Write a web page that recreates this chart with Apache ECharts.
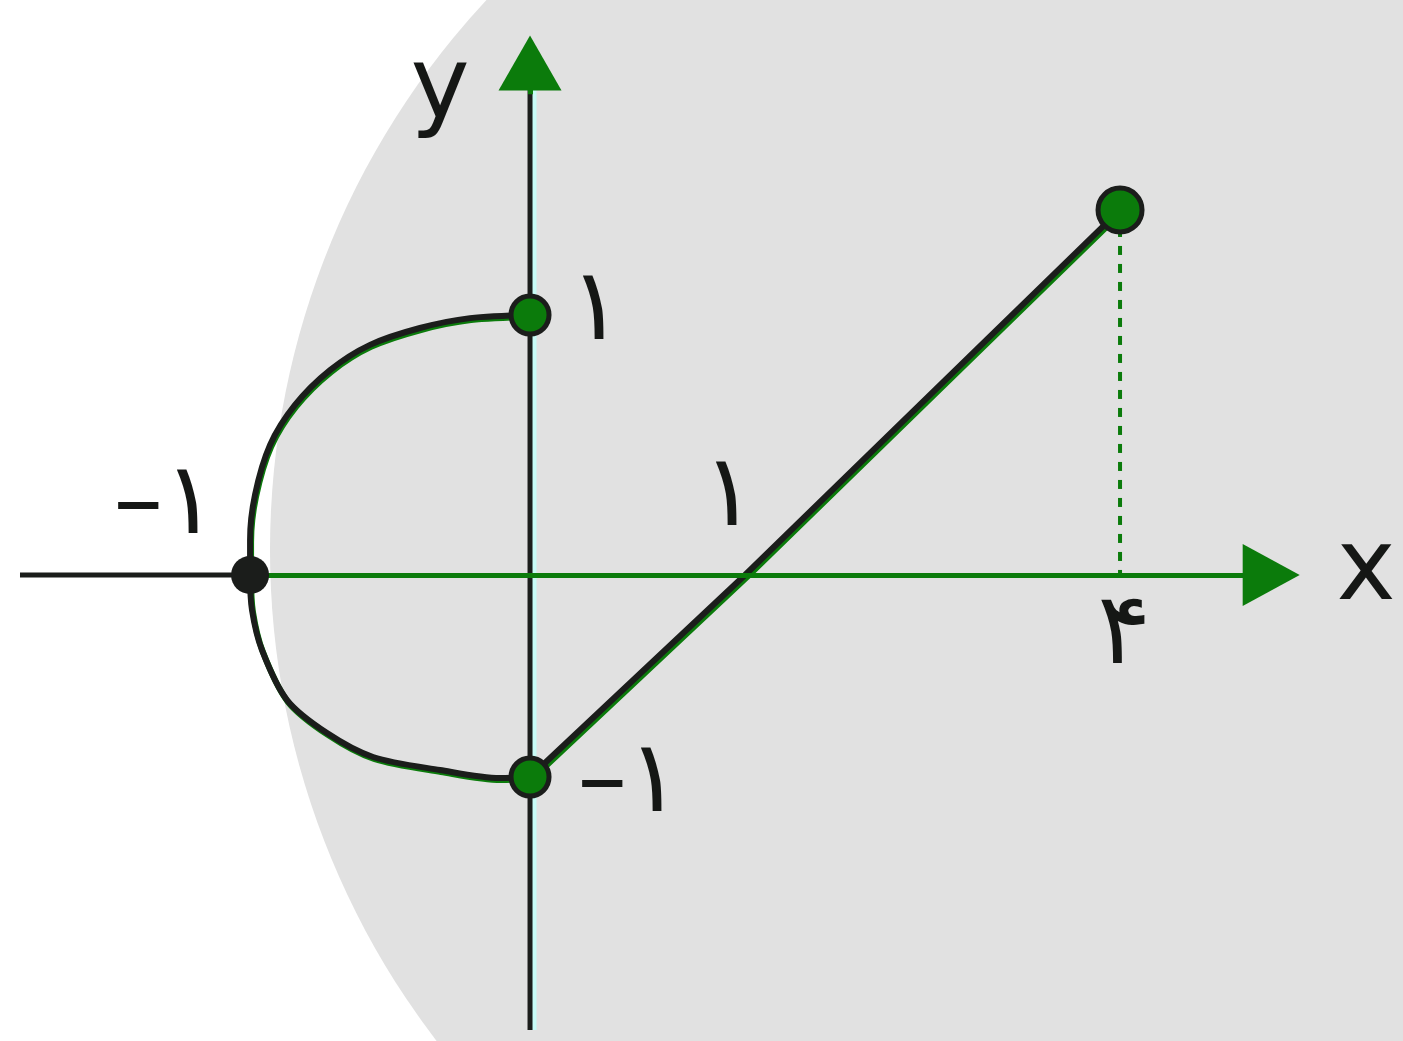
<!DOCTYPE html>
<html>
<head>
<meta charset="utf-8">
<script src="https://cdn.jsdelivr.net/npm/echarts@6/dist/echarts.min.js"></script>
<style>
html,body{margin:0;padding:0;background:#fff;}
#c{width:1403px;height:1041px;}
</style>
</head>
<body>
<div id="c"></div>
<script>
// Curve for x <= 0 (left arc), in figure units (tick "۱" = 1)
const arcX = [0, -0.279, -0.512, -0.744, -0.930, -1.093, -1.209, -1.279, -1.302, -1.302, -1.293, -1.247, -1.130, -0.944, -0.730, -0.419, -0.140, 0];
const arcY = [1, 0.988, 0.950, 0.885, 0.788, 0.654, 0.500, 0.308, 0.135, 0, -0.135, -0.288, -0.481, -0.608, -0.700, -0.750, -0.781, -0.777];
// Straight part for x >= 0
const lineX = [0, 1, 2.744];
const lineY = [-0.777, 0, 1.404];
// Filled points
const dotX = [0, -1.302, 0, 2.744];
const dotY = [1, 0, -0.777, 1.404];
// Tick labels
const xTickPos = [-1.302, 1, 2.744];
const xTickText = ['–۱', '۱', '۴'];
const yTickPos = [1, -0.777];
const yTickText = ['۱', '–۱'];
// Axis extents
const xAxisRange = [-2.372, 3.447];
const yAxisRange = [-1.75, 1.969];
const axisNames = ['x', 'y'];

const pts = (xs, ys) => xs.map((x, i) => [x, ys[i]]);
const dark = '#1b1d1b';
const green = '#0b7b0b';
const font = 'DejaVu Sans';

const labelOffsetsX = [[-85, -68], [-16, -76], [4, 62]];
const labelOffsetsY = [[66, -2], [99, 8]];

const labelData = [];
xTickPos.forEach((x, i) => labelData.push({value: [x, 0], label: {formatter: xTickText[i], offset: labelOffsetsX[i]}}));
yTickPos.forEach((y, i) => labelData.push({value: [0, y], label: {formatter: yTickText[i], offset: labelOffsetsY[i]}}));
labelData.push({value: [xAxisRange[1], 0], label: {formatter: axisNames[0], offset: [95, -2], fontSize: 100}});
labelData.push({value: [0, yAxisRange[1]], label: {formatter: axisNames[1], offset: [-90, 28], fontSize: 100}});

const chart = echarts.init(document.getElementById('c'));
chart.setOption({
  animation: false,
  backgroundColor: '#ffffff',
  graphic: [{
    type: 'circle', z: -10, silent: true,
    shape: {cx: 1077, cy: 550, r: 807},
    style: {fill: '#e1e1e1'}
  }],
  grid: {left: 0, right: 0, top: 0, bottom: 0},
  xAxis: {type: 'value', min: -2.465, max: 4.060, show: false, splitLine: {show: false}},
  yAxis: {type: 'value', min: -1.7923, max: 2.2115, show: false, splitLine: {show: false}},
  series: [
    // x axis: black part left of -1
    {
      type: 'line', data: [[xAxisRange[0], 0], [xTickPos[0], 0]], symbol: 'none', z: 3,
      lineStyle: {color: dark, width: 5}
    },
    // x axis: green part with arrow
    {
      type: 'line', data: [], z: 3,
      markLine: {
        silent: true, animation: false,
        symbol: ['none', 'triangle'], symbolSize: [62, 57],
        label: {show: false},
        lineStyle: {color: green, width: 5, type: 'solid'},
        data: [[{coord: [xTickPos[0], 0]}, {coord: [xAxisRange[1], 0]}]]
      }
    },
    // y axis line
    {
      type: 'line', data: [[0, yAxisRange[0]], [0, yAxisRange[1] - 0.1]], symbol: 'none', z: 3,
      lineStyle: {color: dark, width: 5, shadowColor: '#c8fbf6', shadowOffsetX: 4, shadowBlur: 0}
    },
    // y axis arrow head
    {
      type: 'line', data: [], z: 3,
      markLine: {
        silent: true, animation: false,
        symbol: ['none', 'triangle'], symbolSize: [63, 55],
        label: {show: false},
        lineStyle: {color: green, width: 5, type: 'solid'},
        data: [[{coord: [0, yAxisRange[1] - 0.12]}, {coord: [0, yAxisRange[1]]}]]
      }
    },
    // dotted drop line
    {
      type: 'line', data: [[lineX[2], lineY[2]], [lineX[2], 0]], symbol: 'none', z: 3,
      lineStyle: {color: green, width: 4, type: [9, 9]}
    },
    // left arc
    {
      type: 'line', data: pts(arcX, arcY), symbol: 'none', smooth: 0.3, z: 4,
      lineStyle: {color: dark, width: 6, shadowColor: green, shadowOffsetX: 1, shadowOffsetY: 2, shadowBlur: 0}
    },
    // straight part
    {
      type: 'line', data: pts(lineX, lineY), symbol: 'none', z: 4,
      lineStyle: {color: dark, width: 6, shadowColor: green, shadowOffsetX: 2, shadowOffsetY: 2, shadowBlur: 0}
    },
    // dots
    {
      type: 'scatter', z: 5, symbolSize: 38,
      itemStyle: {opacity: 1},
      data: pts(dotX, dotY).map((p, i) => ({value: p, symbolSize: i === 3 ? 44 : 38, itemStyle: {opacity: 1, color: i === 1 ? dark : green, borderColor: dark, borderWidth: i === 1 ? 0 : 5}}))
    },
    // labels
    {
      type: 'scatter', z: 6, symbolSize: 0, silent: true,
      itemStyle: {opacity: 1},
      data: labelData,
      label: {show: true, position: 'inside', color: '#151715', opacity: 1, fontSize: 100, fontFamily: font, textBorderWidth: 0}
    }
  ]
});
</script>
</body>
</html>
